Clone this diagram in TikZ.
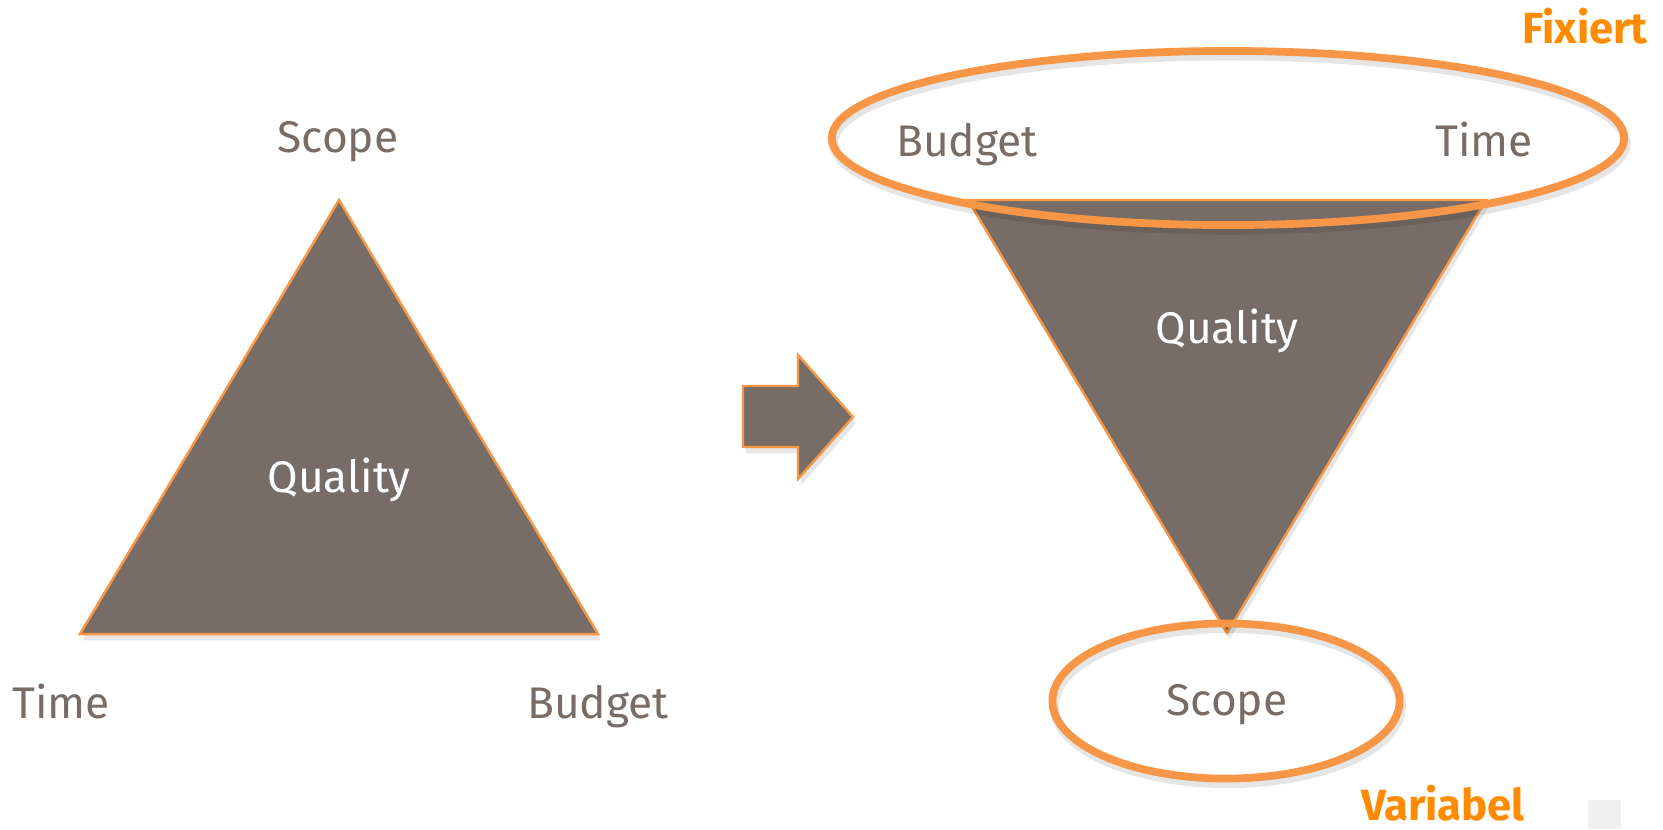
\documentclass[tikz,border=0pt]{standalone}
\usepackage{fontspec}
\setmainfont{Fira Sans}
\usetikzlibrary{shapes.geometric,shadows}

\definecolor{boxgray}{RGB}{119,109,102}
\definecolor{lineorange}{RGB}{247,150,70}
\definecolor{textorange}{RGB}{255,140,0}

\begin{document}
\begin{tikzpicture}[
    x=0.01cm, y=-0.01cm,
    word/.style={font=\fontsize{12.6}{14}\selectfont, text=boxgray, anchor=base, inner sep=0pt},
    inword/.style={word, text=white},
    tagword/.style={font=\fontsize{12.4}{14}\selectfont\bfseries, text=textorange, anchor=base, inner sep=0pt},
    solid/.style={fill=boxgray, draw=lineorange, line width=0.7pt, line join=miter,
        drop shadow={opacity=0.2, shadow xshift=0.8pt, shadow yshift=-1.8pt}},
    ring/.style={ellipse, draw=lineorange, line width=2.2pt, inner sep=0pt,
        drop shadow={opacity=0.1, shadow xshift=0.5pt, shadow yshift=-1.4pt, fill=none, draw=black, line width=2.6pt}}
]
\useasboundingbox (0,0) rectangle (1663,829);

% Left triangle
\coordinate (ltop) at (339,200);
\coordinate (lright) at (598,634);
\coordinate (lleft) at (80,634);
\draw[solid] (ltop) -- (lright) -- (lleft) -- cycle;
\node[word] (lscope) at (338,152) {Scope};
\node[word] (ltime) at (61,718) {Time};
\node[word] (lbudget) at (598,718) {Budget};
\node[inword] (lquality) at (339,492) {Quality};

% Arrow
\draw[solid] (743,386) -- (798,386) -- (798,355) -- (853,417) -- (798,479) -- (798,447) -- (743,447) -- cycle;

% Right triangle
\coordinate (rleft) at (968,200);
\coordinate (rright) at (1486,200);
\coordinate (rtip) at (1227,633);
\draw[solid] (rleft) -- (rright) -- (rtip) -- cycle;
\node[inword] (rquality) at (1227,343) {Quality};

% Fixed and variable
\node[ring, minimum width=7.92cm, minimum height=1.74cm] (fixed) at (1228,138) {};
\node[word] (rbudget) at (967,156) {Budget};
\node[word] (rtime) at (1484,156) {Time};
\node[ring, minimum width=3.47cm, minimum height=1.55cm] (variable) at (1226,701) {};
\node[word] (rscope) at (1227,715) {Scope};

\node[tagword] (fixiert) at (1585,43) {Fixiert};
\node[tagword] (variabel) at (1443,820) {Variabel};

\fill[black!6] (1588,800) rectangle (1621,829);

\end{tikzpicture}
\end{document}
